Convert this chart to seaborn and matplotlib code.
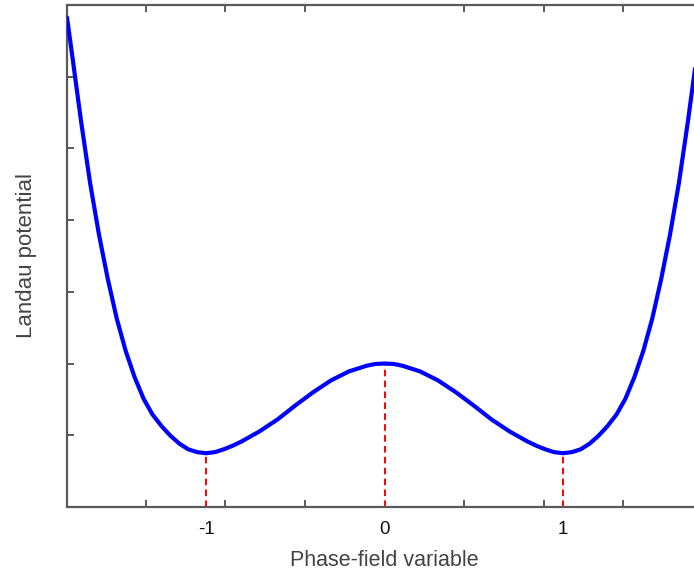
import numpy as np
import pandas as pd
import matplotlib
matplotlib.use("Agg")
import matplotlib.pyplot as plt
import seaborn as sns

# ---- data ----
phi = [-1.779, -1.75, -1.70, -1.65, -1.60, -1.55, -1.50, -1.45, -1.40, -1.35,
       -1.30, -1.25, -1.20, -1.15, -1.10, -1.05, -1.00, -0.95, -0.90, -0.85,
       -0.80, -0.70, -0.60, -0.50, -0.40, -0.30, -0.20, -0.10, -0.05, 0.00,
       0.05, 0.10, 0.20, 0.30, 0.40, 0.50, 0.60, 0.70, 0.80, 0.85,
       0.90, 0.95, 1.00, 1.05, 1.10, 1.15, 1.20, 1.25, 1.30, 1.35,
       1.40, 1.45, 1.50, 1.55, 1.60, 1.65, 1.70, 1.75, 1.779]
potential = [0.965, 0.860, 0.675, 0.505, 0.360, 0.235, 0.125, 0.035, -0.038, -0.098,
             -0.142, -0.174, -0.201, -0.223, -0.239, -0.247, -0.250, -0.247, -0.239, -0.229,
             -0.217, -0.189, -0.156, -0.117, -0.080, -0.047, -0.022, -0.006, -0.001, 0.000,
             -0.001, -0.006, -0.022, -0.047, -0.080, -0.117, -0.156, -0.189, -0.217, -0.229,
             -0.239, -0.247, -0.250, -0.247, -0.239, -0.223, -0.201, -0.174, -0.142, -0.098,
             -0.038, 0.035, 0.125, 0.235, 0.360, 0.505, 0.675, 0.860, 0.965]

marker_x = [-1.0, 0.0, 1.0]
marker_top = [-0.25, 0.0, -0.25]
marker_labels = ["-1", "0", "1"]

x_minor_ticks = [-1.336, -0.891, -0.445, 0.0, 0.446, 0.891, 1.336]
y_ticks = [-0.2, 0.0, 0.2, 0.4, 0.6, 0.8]

x_label = "Phase-field variable"
y_label = "Landau potential"

df = pd.DataFrame({"phi": phi, "potential": potential})

sns.set_style("white")
plt.rcParams["font.family"] = ["Liberation Sans", "DejaVu Sans"]

fig = plt.figure(figsize=(6.94, 5.74), dpi=100)
W, H = 694, 574
ax = fig.add_axes([67 / W, (H - 507) / H, (702 - 67) / W, (507 - 5) / H])

ax.vlines(marker_x, -0.4, marker_top, colors="#ff0000", linestyles=(0, (3.4, 2.2)),
          linewidth=1.4, zorder=2)
sns.lineplot(data=df, x="phi", y="potential", ax=ax, color="#0000ff",
             linewidth=3.0, sort=False, zorder=3)

ax.set_xlim(-1.779, 1.779)
ax.set_ylim(-0.4, 1.0)

spine_color = "#5a5a5a"
for s in ax.spines.values():
    s.set_color(spine_color)
    s.set_linewidth(1.6)

ax.set_xticks(marker_x)
ax.set_xticklabels(marker_labels)
ax.set_xticks(x_minor_ticks, minor=True)
ax.tick_params(axis="x", which="major", length=0, pad=10, labelsize=13.5, labelcolor="#111111")
ax.tick_params(axis="x", which="minor", direction="in", length=5, width=1.4,
               color=spine_color, top=True, bottom=True)
ax.set_yticks(y_ticks)
ax.set_yticklabels([])
ax.tick_params(axis="y", which="major", direction="in", length=5, width=1.4,
               color=spine_color, left=True, right=False)

ax.set_xlabel(x_label, fontsize=15.5, color="#444444", labelpad=9)
ax.set_ylabel(y_label, fontsize=16, color="#444444", labelpad=18)

fig.savefig("out.png", dpi=100)
